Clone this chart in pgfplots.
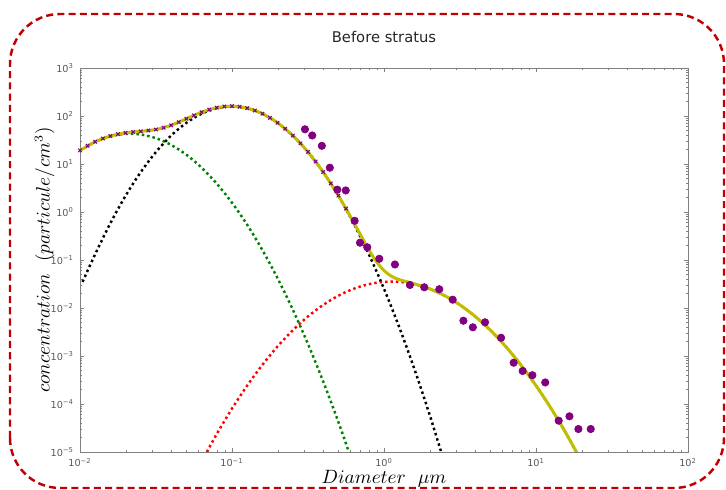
\documentclass[border=0pt]{standalone}
\usepackage[no-math]{fontspec}
\setmainfont{DejaVu Sans}
\usepackage{pgfplots}
\pgfplotsset{compat=1.18}
\definecolor{mplyellow}{rgb}{0.75,0.75,0}
\definecolor{mplgreen}{rgb}{0,0.5,0}
\definecolor{mplpurple}{rgb}{0.5,0,0.5}
\definecolor{framered}{rgb}{0.75,0,0}

\begin{document}
\begin{tikzpicture}
\begin{axis}[
  at={(0,0)}, anchor=south west,
  scale only axis, width=12.16cm, height=7.68cm,
  xmode=log, ymode=log,
  xmin=0.01, xmax=100, ymin=1e-5, ymax=1e3,
  xtick={0.01,0.1,1,10,100},
  xticklabels={10\textsuperscript{−2},10\textsuperscript{−1},10\textsuperscript{0},10\textsuperscript{1},10\textsuperscript{2}},
  ytick={1e-5,1e-4,1e-3,1e-2,1e-1,1,10,100,1000},
  yticklabels={10\textsuperscript{−5},10\textsuperscript{−4},10\textsuperscript{−3},10\textsuperscript{−2},10\textsuperscript{−1},10\textsuperscript{0},10\textsuperscript{1},10\textsuperscript{2},10\textsuperscript{3}},
  axis line style={black!50},
  tick style={black!50},
  major tick length=0.08cm, minor tick length=0.045cm,
  tick label style={font=\fontsize{5.5}{6}\selectfont, text=black!65},
  title={Before stratus},
  title style={font=\fontsize{8.4}{10}\selectfont, text=black!85, yshift=5pt},
  xlabel={$Diameter\ \ \mu m$},
  ylabel={$concentration\ \ (particule/cm^3)$},
  label style={font=\fontsize{10.7}{13}\selectfont},
  xlabel style={yshift=5pt},
  ylabel shift=-9pt,
  clip=true,
]
% measured points, small sizes
\addplot[only marks, mark=x, mark size=1.4pt, color=mplpurple, line width=0.6pt]
  coordinates {(0.01,19.13)(0.01122,24.0)(0.01259,29.03)(0.01413,33.9)(0.01585,38.29)(0.01778,41.9)(0.01995,44.58)(0.02239,46.4)(0.02512,47.89)(0.02818,49.6)(0.03162,52.3)(0.03548,56.8)(0.03981,64.0)(0.04467,74.3)(0.05012,87.7)(0.05623,103.3)(0.0631,120.1)(0.07079,136.0)(0.07943,149.1)(0.08913,157.6)(0.1,160.1)(0.1122,156.0)(0.1259,145.7)(0.1413,130.5)(0.1585,111.9)(0.1778,91.8)(0.1995,72.1)(0.2239,54.3)(0.2512,39.1)(0.2818,26.9)(0.3162,17.8)(0.3548,11.24)(0.3981,6.80)(0.4467,3.94)(0.5012,2.196)(0.5623,1.177)(0.631,0.611)};
% measured points, large sizes
\addplot[only marks, mark=*, mark size=2.1pt, color=mplpurple]
  coordinates {(0.302,52.8)(0.337,39.3)(0.390,23.9)(0.440,8.37)(0.493,2.92)(0.560,2.81)(0.641,0.656)(0.695,0.229)(0.776,0.184)(0.931,0.106)(1.18,0.0806)(1.48,0.0302)(1.84,0.0270)(2.31,0.0246)(2.83,0.0149)(3.33,0.00543)(3.84,0.00396)(4.62,0.00503)(5.89,0.00240)(7.13,7.24e-4)(8.17,4.87e-4)(9.46,3.98e-4)(11.5,2.81e-4)(14.1,4.49e-5)(16.6,5.54e-5)(19.0,3.01e-5)(22.9,3.01e-5)};
% mode 1
\addplot[smooth, color=mplgreen, line width=1.4pt, dash pattern=on 1.4pt off 1.7pt]
  coordinates {(0.01,19.1)(0.01259,28.9)(0.01585,37.7)(0.01995,42.4)(0.02512,41.1)(0.03162,34.5)(0.03981,24.9)(0.05012,15.6)(0.0631,8.38)(0.07943,3.89)(0.1,1.56)(0.1259,0.541)(0.1585,0.161)(0.1995,0.0416)(0.2512,0.00925)(0.3162,0.00178)(0.3981,2.94e-4)(0.5012,4.21e-5)(0.631,5.19e-6)};
% mode 2
\addplot[smooth, color=black, line width=1.4pt, dash pattern=on 1.4pt off 1.7pt]
  coordinates {(0.0104,0.035)(0.01259,0.1324)(0.01585,0.586)(0.01995,2.178)(0.02512,6.79)(0.03162,17.8)(0.03981,39.1)(0.05012,72.1)(0.0631,111.7)(0.07943,145.2)(0.1,158.5)(0.1259,145.2)(0.1585,111.7)(0.1995,72.1)(0.2512,39.1)(0.3162,17.8)(0.3981,6.79)(0.5012,2.178)(0.631,0.586)(0.7943,0.1324)(1,0.0251)(1.259,0.004)(1.585,5.35e-4)(1.995,6.0e-5)(2.512,5.65e-6)};
% mode 3
\addplot[smooth, color=red, line width=1.4pt, dash pattern=on 1.4pt off 1.7pt]
  coordinates {(0.0631,6.31e-6)(0.07943,2.38e-5)(0.1,8.02e-5)(0.1259,2.42e-4)(0.1585,6.55e-4)(0.1995,1.585e-3)(0.2512,3.44e-3)(0.3162,6.67e-3)(0.3981,0.01159)(0.5012,0.01803)(0.631,0.02512)(0.7943,0.03133)(1,0.035)(1.259,0.035)(1.585,0.03133)(1.995,0.02512)(2.512,0.01803)(3.162,0.01159)(3.981,6.67e-3)(5.012,3.44e-3)(6.31,1.585e-3)(7.943,6.55e-4)(10,2.42e-4)(12.59,8.02e-5)(15.85,2.38e-5)(19.95,6.31e-6)};
% sum of modes
\addplot[smooth, tension=0.4, color=mplyellow, line width=1.7pt]
  coordinates {(0.01,19.13)(0.01259,29.03)(0.01585,38.29)(0.01995,44.58)(0.02512,47.89)(0.03162,52.3)(0.03981,64.0)(0.05012,87.7)(0.0631,120.1)(0.07943,149.1)(0.1,160.1)(0.1259,145.7)(0.1585,111.9)(0.1995,72.1)(0.2512,39.1)(0.3162,17.8)(0.3981,6.80)(0.5012,2.196)(0.631,0.611)(0.7943,0.1637)(0.8913,0.0925)(1,0.0601)(1.122,0.0457)(1.259,0.039)(1.585,0.03187)(1.995,0.02518)(2.512,0.01803)(3.162,0.01159)(3.981,6.67e-3)(5.012,3.44e-3)(6.31,1.585e-3)(7.943,6.55e-4)(10,2.42e-4)(12.59,8.02e-5)(15.85,2.38e-5)(19.95,6.31e-6)};
\end{axis}
\draw[framered, line width=1.4pt, dash pattern=on 4pt off 2.4pt, rounded corners=1cm]
  (-1.4,-0.72) rectangle (12.88,8.76);
\pgfresetboundingbox
\useasboundingbox (-1.6,-0.76) rectangle (12.92,9.04);
\end{tikzpicture}
\end{document}
